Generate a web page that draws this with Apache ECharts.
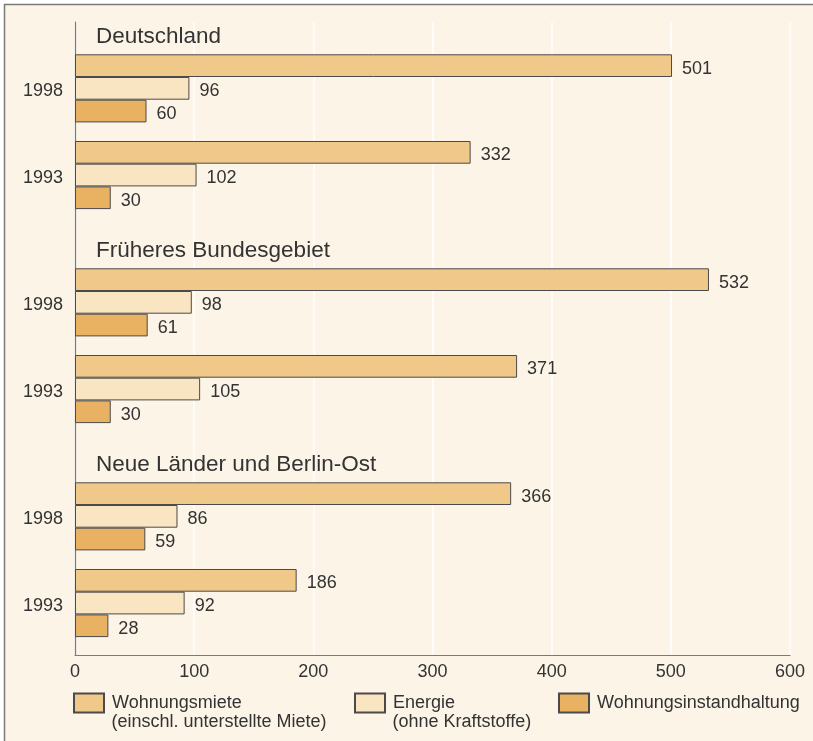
<!DOCTYPE html>
<html>
<head>
<meta charset="utf-8">
<script src="https://cdn.jsdelivr.net/npm/echarts@6/dist/echarts.min.js"></script>
<style>html,body{margin:0;padding:0;background:#fff}#c{width:813px;height:741px}</style>
</head>
<body>
<div id="c"></div>
<script>
const years = ['1998', '1993'];
const regions = ['Deutschland', 'Früheres Bundesgebiet', 'Neue Länder und Berlin-Ost'];
const seriesNames = ['Wohnungsmiete', 'Energie', 'Wohnungsinstandhaltung'];
const seriesSubNames = ['(einschl. unterstellte Miete)', '(ohne Kraftstoffe)', ''];
const mieteValues = [[501, 332], [532, 371], [366, 186]];
const energieValues = [[96, 102], [98, 105], [86, 92]];
const instandValues = [[60, 30], [61, 30], [59, 28]];
const xTicks = [0, 100, 200, 300, 400, 500, 600];

const colors = ['#F0C98A', '#FAE5C2', '#E8B262'];
const font = '"Liberation Sans", Arial, sans-serif';
const textColor = '#333';
const border = '#4a4a4a';

const sectionTops = [45, 259, 473];
const headerY = [37, 251, 465];
const sectionH = 173.4;
const barW = 22.7;

const grids = [{ left: 75, right: 23, top: 22, bottom: 86 }];
const xAxes = [{
  gridIndex: 0, type: 'value', min: xTicks[0], max: xTicks[xTicks.length - 1], interval: 100,
  axisLine: { show: true, lineStyle: { color: '#7a7a7a', width: 1.2 } },
  axisTick: { show: false },
  axisLabel: { color: textColor, fontFamily: font, fontSize: 18, margin: 8 },
  splitLine: { show: true, lineStyle: { color: '#ffffff', width: 1.5 } }
}];
const yAxes = [{
  gridIndex: 0, type: 'value', min: 0, max: 1,
  axisLine: { show: true, lineStyle: { color: '#7a7a7a', width: 1.2 } },
  axisTick: { show: false }, axisLabel: { show: false }, splitLine: { show: false }
}];
const series = [];
const valueSets = [mieteValues, energieValues, instandValues];

regions.forEach((r, i) => {
  const gi = i + 1;
  grids.push({ left: 75, right: 23, top: sectionTops[i], height: sectionH });
  xAxes.push({ gridIndex: gi, type: 'value', min: 0, max: 600, show: false });
  yAxes.push({
    gridIndex: gi, type: 'category', data: years, inverse: true,
    axisLine: { show: false }, axisTick: { show: false }, splitLine: { show: false },
    axisLabel: {
      color: textColor, fontFamily: font, fontSize: 18, margin: 12,
      formatter: '{a|{value}}',
      rich: { a: { color: textColor, fontFamily: font, fontSize: 18, padding: [6, 0, 0, 0] } }
    }
  });
  valueSets.forEach((vals, k) => {
    series.push({
      name: seriesNames[k], type: 'bar', xAxisIndex: gi, yAxisIndex: gi,
      data: vals[i], barWidth: barW, barGap: '0%',
      itemStyle: { color: colors[k], borderColor: border, borderWidth: 1 },
      label: { show: true, position: 'right', distance: 10, offset: [0, 3], color: textColor, fontFamily: font, fontSize: 18 },
      emphasis: { disabled: true }, silent: true, animation: false
    });
  });
});

const legendLeft = [73, 354, 558];
const legends = seriesNames.map((n, k) => ({
  data: [n], left: legendLeft[k], top: 692.5, orient: 'horizontal',
  itemWidth: 30, itemHeight: 19, itemGap: 8, selectedMode: false,
  icon: 'rect', padding: 0,
  textStyle: { color: textColor, fontFamily: font, fontSize: 18, padding: [0, 0, 0, 3] }
}));

const graphics = [{
  type: 'rect', z: -10, silent: true,
  shape: { x: 4.5, y: 4.5, width: 900, height: 900 },
  style: { fill: '#FCF4E6', stroke: '#7a7a7a', lineWidth: 1.5 }
}];
regions.forEach((r, i) => {
  graphics.push({
    type: 'text', x: 96, y: headerY[i], silent: true, z: 100,
    style: { text: r, fill: textColor, font: '22.5px ' + font, textVerticalAlign: 'middle' }
  });
});
seriesSubNames.forEach((s, k) => {
  if (!s) return;
  graphics.push({
    type: 'text', x: legendLeft[k] + 38.5, y: 722, silent: true, z: 100,
    style: { text: s, fill: textColor, font: '18px ' + font, textVerticalAlign: 'middle' }
  });
});

const chart = echarts.init(document.getElementById('c'), null, { renderer: 'canvas' });
chart.setOption({
  backgroundColor: '#ffffff',
  animation: false,
  grid: grids, xAxis: xAxes, yAxis: yAxes, series: series,
  legend: legends, graphic: graphics
});
</script>
</body>
</html>
